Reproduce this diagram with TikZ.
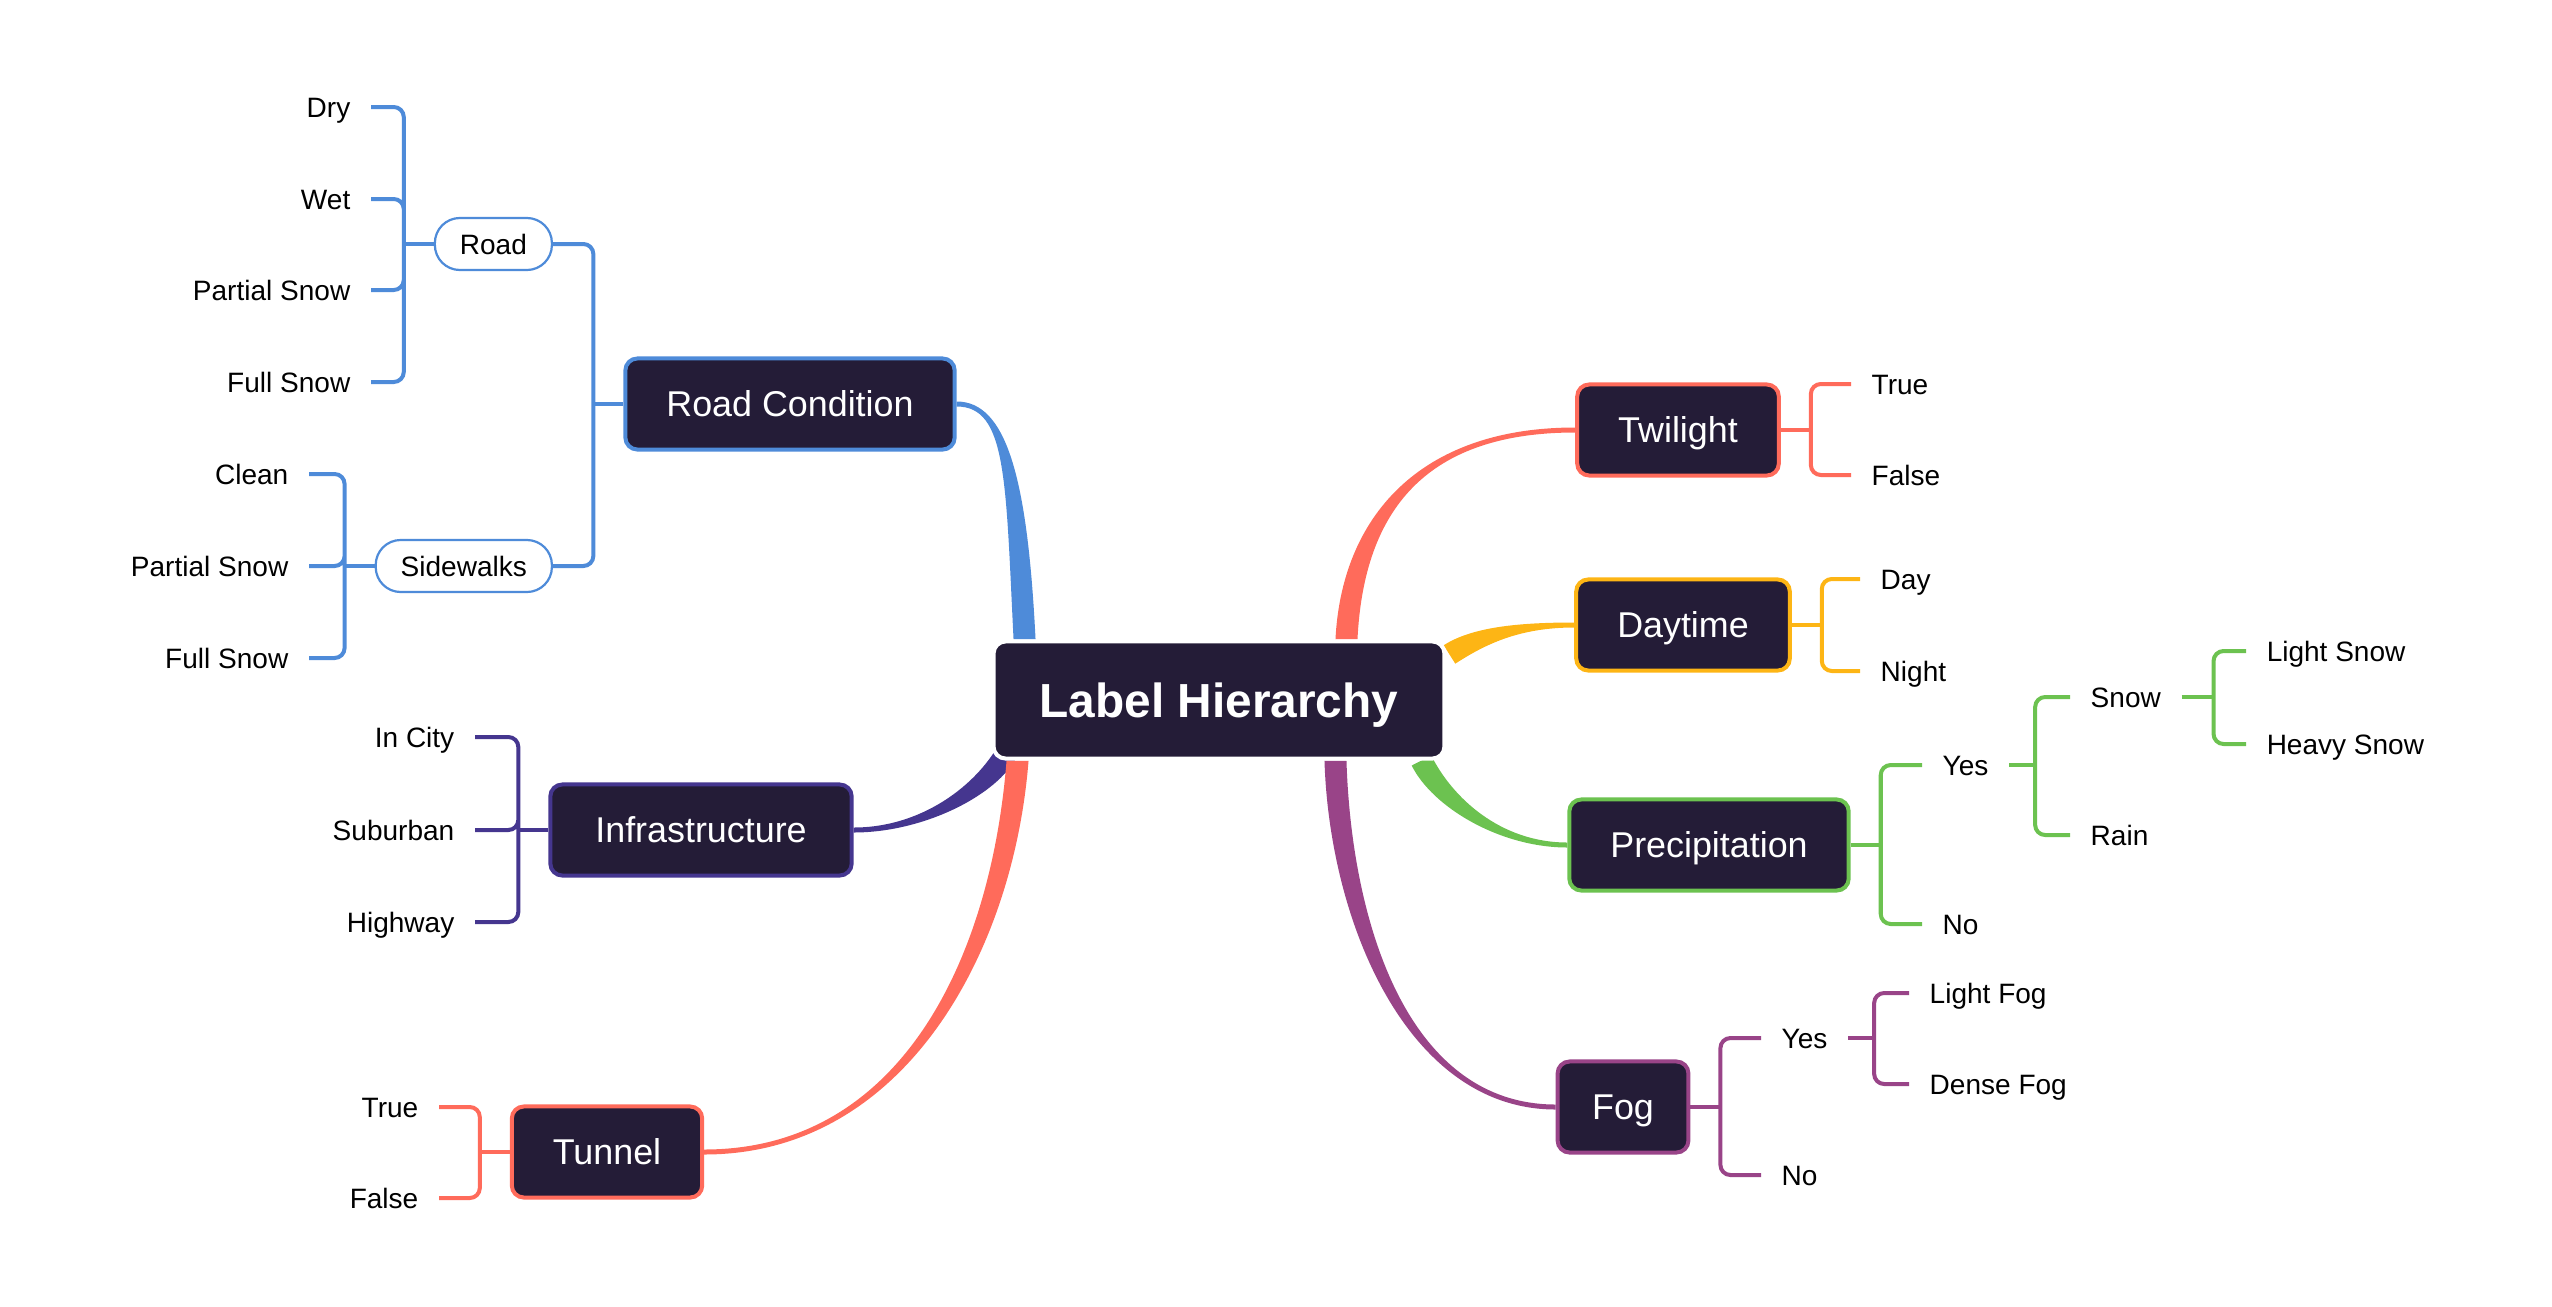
\documentclass[tikz,border=0pt]{standalone}
\usepackage{fontspec}
\setmainfont{Liberation Sans}
\usepackage{xcolor}
\usepackage{tikz}
\usetikzlibrary{calc}
\definecolor{boxbg}{HTML}{241C37}
\definecolor{skyblue}{HTML}{4E8BD9}
\definecolor{indigo}{HTML}{45368F}
\definecolor{coral}{HTML}{FF6B5B}
\definecolor{amber}{HTML}{FDB515}
\definecolor{grass}{HTML}{6CC250}
\definecolor{plum}{HTML}{994488}

\newcommand\leaffont{\fontsize{7.97}{9.5}\selectfont}
\newcommand\catfont{\fontsize{10.2}{12}\selectfont}
\newcommand\rootfont{\fontsize{13.6}{16}\selectfont}

% tapered branch: colour, start, control 1, control 2, end, start offset, end offset
\newcommand\limb[7]{%
  \fill[#1] ($#2+#6$) .. controls ($#3+#6$) and ($#4+#7$) .. ($#5+#7$)
    -- ($#5-#7$) .. controls ($#4-#7$) and ($#3-#6$) .. ($#2-#6$) -- cycle;}

\pgfdeclarelayer{bg}
\pgfsetlayers{bg,main}

\tikzset{
  rootbox/.style={rectangle, rounded corners=0.12cm, fill=boxbg, draw=white, line width=0.04cm, text=white, font=\bfseries\rootfont, text height=0.34cm, text depth=0cm, minimum height=1.17cm, inner xsep=0.46cm},
  catbox/.style={rectangle, rounded corners=0.12cm, fill=boxbg, draw=#1, line width=0.04cm, text=white, font=\catfont, text height=0.256cm, text depth=0cm, minimum height=0.91cm, inner xsep=0.41cm},
  pill/.style={rectangle, rounded corners=0.25cm, fill=white, draw=#1, line width=0.022cm, font=\leaffont, text height=0.2cm, text depth=0cm, minimum height=0.52cm, inner xsep=0.25cm},
  leaf/.style={font=\leaffont, text height=0.2cm, text depth=0cm, inner xsep=0.2cm, inner ysep=0.05cm},
  twig/.style={draw=#1, line width=0.04cm, rounded corners=0.1cm},
}

\begin{document}
\begin{tikzpicture}[x=0.01cm,y=-0.01cm]
    \useasboundingbox (0,0) rectangle (2552,1306);

    \node[rootbox] (root) at (1219,700) {Label Hierarchy};

    \node[catbox=skyblue] (rc) at (790,404) {Road Condition};
    \node[pill=skyblue, anchor=east] (road) at (553,244) {Road};
    \node[pill=skyblue, anchor=east] (walks) at (553,566) {Sidewalks};
    \node[leaf, anchor=east] (dry) at (371,107) {Dry};
    \node[leaf, anchor=east] (wet) at (371,199) {Wet};
    \node[leaf, anchor=east] (rpart) at (371,290) {Partial Snow};
    \node[leaf, anchor=east] (rfull) at (371,382) {Full Snow};
    \node[leaf, anchor=east] (clean) at (309,474) {Clean};
    \node[leaf, anchor=east] (wpart) at (309,566) {Partial Snow};
    \node[leaf, anchor=east] (wfull) at (309,658) {Full Snow};

    \node[catbox=indigo, inner xsep=0.45cm] (infra) at (701,830) {Infrastructure};
    \node[leaf, anchor=east] (city) at (475,737) {In City};
    \node[leaf, anchor=east] (suburb) at (475,830) {Suburban};
    \node[leaf, anchor=east] (highway) at (475,922) {Highway};

    \node[catbox=coral] (tunnel) at (607,1152) {Tunnel};
    \node[leaf, anchor=east] (ttrue) at (439,1107) {True};
    \node[leaf, anchor=east] (tfalse) at (439,1198) {False};

    \node[catbox=coral] (twilight) at (1678,430) {Twilight};
    \node[leaf, anchor=west] (wtrue) at (1851,384) {True};
    \node[leaf, anchor=west] (wfalse) at (1851,475) {False};

    \node[catbox=amber] (daytime) at (1683,625) {Daytime};
    \node[leaf, anchor=west] (day) at (1860,579) {Day};
    \node[leaf, anchor=west] (night) at (1860,671) {Night};

    \node[catbox=grass] (precip) at (1709,845) {Precipitation};
    \node[leaf, anchor=west] (pyes) at (1922,765) {Yes};
    \node[leaf, anchor=west] (pno) at (1922,924) {No};
    \node[leaf, anchor=west] (snow) at (2070,697) {Snow};
    \node[leaf, anchor=west] (rain) at (2070,835) {Rain};
    \node[leaf, anchor=west] (lsnow) at (2246,651) {Light Snow};
    \node[leaf, anchor=west] (hsnow) at (2246,744) {Heavy Snow};

    \node[catbox=plum, inner xsep=0.345cm] (fog) at (1623,1107) {Fog};
    \node[leaf, anchor=west] (fyes) at (1761,1038) {Yes};
    \node[leaf, anchor=west] (fno) at (1761,1175) {No};
    \node[leaf, anchor=west] (lfog) at (1909,993) {Light Fog};
    \node[leaf, anchor=west] (dfog) at (1909,1084) {Dense Fog};

    \begin{pgfonlayer}{bg}
        \limb{skyblue}{(rc.east)}{(rc.east)+(50,0)}{(root.north west)+(25,-161)}{(root.north west)+(33,0)}{(0,2.5)}{(-11,0)}
        \limb{indigo}{(infra.east)}{(infra.east)+(67,0)}{(root.south west)+(-9,32)}{(root.south west)+(14,-6)}{(0,2.5)}{(9.4,5.7)}
        \limb{coral}{(tunnel.east)}{(tunnel.east)+(200,0)}{(root.south west)+(11,192)}{(root.south west)+(26,0)}{(0,2.5)}{(11,0)}
        \limb{coral}{(twilight.west)}{(twilight.west)+(-157,0)}{(root.north east)+(-94,-121)}{(root.north east)+(-100,0)}{(0,-2.5)}{(-11,0)}
        \limb{amber}{(daytime.west)}{(daytime.west)+(-57,0)}{(root.north east)+(31,-3)}{(root.north east)+(3,15)}{(0,-2.5)}{(-5.8,-9.2)}
        \limb{grass}{(precip.west)}{(precip.west)+(-67,0)}{(root.south east)+(-4,42)}{(root.south east)+(-25,0)}{(0,-2.5)}{(9.8,-5)}
        \limb{plum}{(fog.west)}{(fog.west)+(-148,0)}{(root.south east)+(-106,162)}{(root.south east)+(-111,0)}{(0,-2.5)}{(11,0)}
    \end{pgfonlayer}

    \draw[twig=skyblue] (rc.west) -- ++(-30,0) coordinate (rcj);
    \draw[twig=skyblue] (rcj) |- (road.east) (rcj) |- (walks.east);
    \draw[twig=skyblue] (road.west) -- ++(-30,0) coordinate (roadj);
    \draw[twig=skyblue] (roadj) |- (dry.east) (roadj) |- (wet.east) (roadj) |- (rpart.east) (roadj) |- (rfull.east);
    \draw[twig=skyblue] (walks.west) -- ++(-30,0) coordinate (walksj);
    \draw[twig=skyblue] (walksj) |- (clean.east) (walksj) |- (wpart.east) (walksj) |- (wfull.east);

    \draw[twig=indigo] (infra.west) -- ++(-30,0) coordinate (infraj);
    \draw[twig=indigo] (infraj) |- (city.east) (infraj) |- (suburb.east) (infraj) |- (highway.east);

    \draw[twig=coral] (tunnel.west) -- ++(-30,0) coordinate (tunnelj);
    \draw[twig=coral] (tunnelj) |- (ttrue.east) (tunnelj) |- (tfalse.east);

    \draw[twig=coral] (twilight.east) -- ++(30,0) coordinate (twilightj);
    \draw[twig=coral] (twilightj) |- (wtrue.west) (twilightj) |- (wfalse.west);

    \draw[twig=amber] (daytime.east) -- ++(30,0) coordinate (daytimej);
    \draw[twig=amber] (daytimej) |- (day.west) (daytimej) |- (night.west);

    \draw[twig=grass] (precip.east) -- ++(30,0) coordinate (precipj);
    \draw[twig=grass] (precipj) |- (pyes.west) (precipj) |- (pno.west);
    \draw[twig=grass] (pyes.east) -- ++(26,0) coordinate (pyesj);
    \draw[twig=grass] (pyesj) |- (snow.west) (pyesj) |- (rain.west);
    \draw[twig=grass] (snow.east) -- ++(32,0) coordinate (snowj);
    \draw[twig=grass] (snowj) |- (lsnow.west) (snowj) |- (hsnow.west);

    \draw[twig=plum] (fog.east) -- ++(30,0) coordinate (fogj);
    \draw[twig=plum] (fogj) |- (fyes.west) (fogj) |- (fno.west);
    \draw[twig=plum] (fyes.east) -- ++(26,0) coordinate (fyesj);
    \draw[twig=plum] (fyesj) |- (lfog.west) (fyesj) |- (dfog.west);
\end{tikzpicture}
\end{document}
